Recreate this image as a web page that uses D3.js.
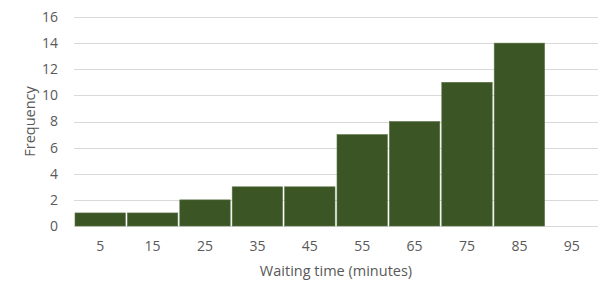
<!DOCTYPE html>
<html>
<head>
<meta charset="utf-8">
<script src="https://cdn.jsdelivr.net/npm/d3@7"></script>
<style>
  body { margin: 0; background: #fff; }
  svg text { font-family: "Open Sans", "Liberation Sans", sans-serif; fill: #595959; }
</style>
</head>
<body>
<div id="chart"></div>
<script>
"use strict";

var bins = ["5", "15", "25", "35", "45", "55", "65", "75", "85", "95"];
var counts = [1, 1, 2, 3, 3, 7, 8, 11, 14, 0];
var yTicks = [0, 2, 4, 6, 8, 10, 12, 14, 16];

var totalWidth = 613,
  totalHeight = 299;
var margin = { top: 17, right: 15, bottom: 73, left: 74 },
  width = totalWidth - margin.left - margin.right,
  height = totalHeight - margin.top - margin.bottom;

var svg = d3
  .select("#chart")
  .append("svg")
  .attr("width", totalWidth)
  .attr("height", totalHeight);

var g = svg
  .append("g")
  .attr("transform", "translate(" + margin.left + "," + margin.top + ")");

var x = d3.scaleBand().domain(bins).range([0, width]).padding(0);
var y = d3.scaleLinear().domain([0, 16]).range([height, 0]);

// gridlines
g.selectAll(".grid")
  .data(yTicks)
  .enter()
  .append("line")
  .attr("x1", 0)
  .attr("x2", width)
  .attr("y1", function(d) { return Math.round(y(d)) + 0.5; })
  .attr("y2", function(d) { return Math.round(y(d)) + 0.5; })
  .style("stroke", "#d9d9d9")
  .style("stroke-width", 1);

// bars
var data = bins.map(function(b, i) {
  return { bin: b, count: counts[i] };
});

g.selectAll(".bar")
  .data(data.filter(function(d) { return d.count > 0; }))
  .enter()
  .append("rect")
  .attr("x", function(d) { return x(d.bin) + 1; })
  .attr("width", x.bandwidth() - 2)
  .attr("y", function(d) { return y(d.count); })
  .attr("height", function(d) { return height - y(d.count); })
  .style("fill", "#3b5525")
  .style("stroke", "#5d7549")
  .style("stroke-width", 0.6);

// y axis labels
var yAxis = g.append("g").call(d3.axisLeft(y).tickValues(yTicks).tickSize(0).tickPadding(16));
yAxis.select(".domain").remove();
yAxis.selectAll("text").style("font-size", "14px").attr("fill", "#595959");

// x axis labels
var xAxis = g
  .append("g")
  .attr("transform", "translate(0," + height + ")")
  .call(d3.axisBottom(x).tickSize(0).tickPadding(15));
xAxis.select(".domain").remove();
xAxis.selectAll("text").style("font-size", "14px").attr("fill", "#595959");

// axis titles
svg
  .append("text")
  .attr("x", margin.left + width / 2)
  .attr("y", 276)
  .attr("text-anchor", "middle")
  .style("font-size", "14.5px")
  .text("Waiting time (minutes)");

svg
  .append("text")
  .attr("transform", "translate(35," + (margin.top + height / 2) + ") rotate(-90)")
  .attr("text-anchor", "middle")
  .style("font-size", "14.5px")
  .text("Frequency");
</script>
</body>
</html>
